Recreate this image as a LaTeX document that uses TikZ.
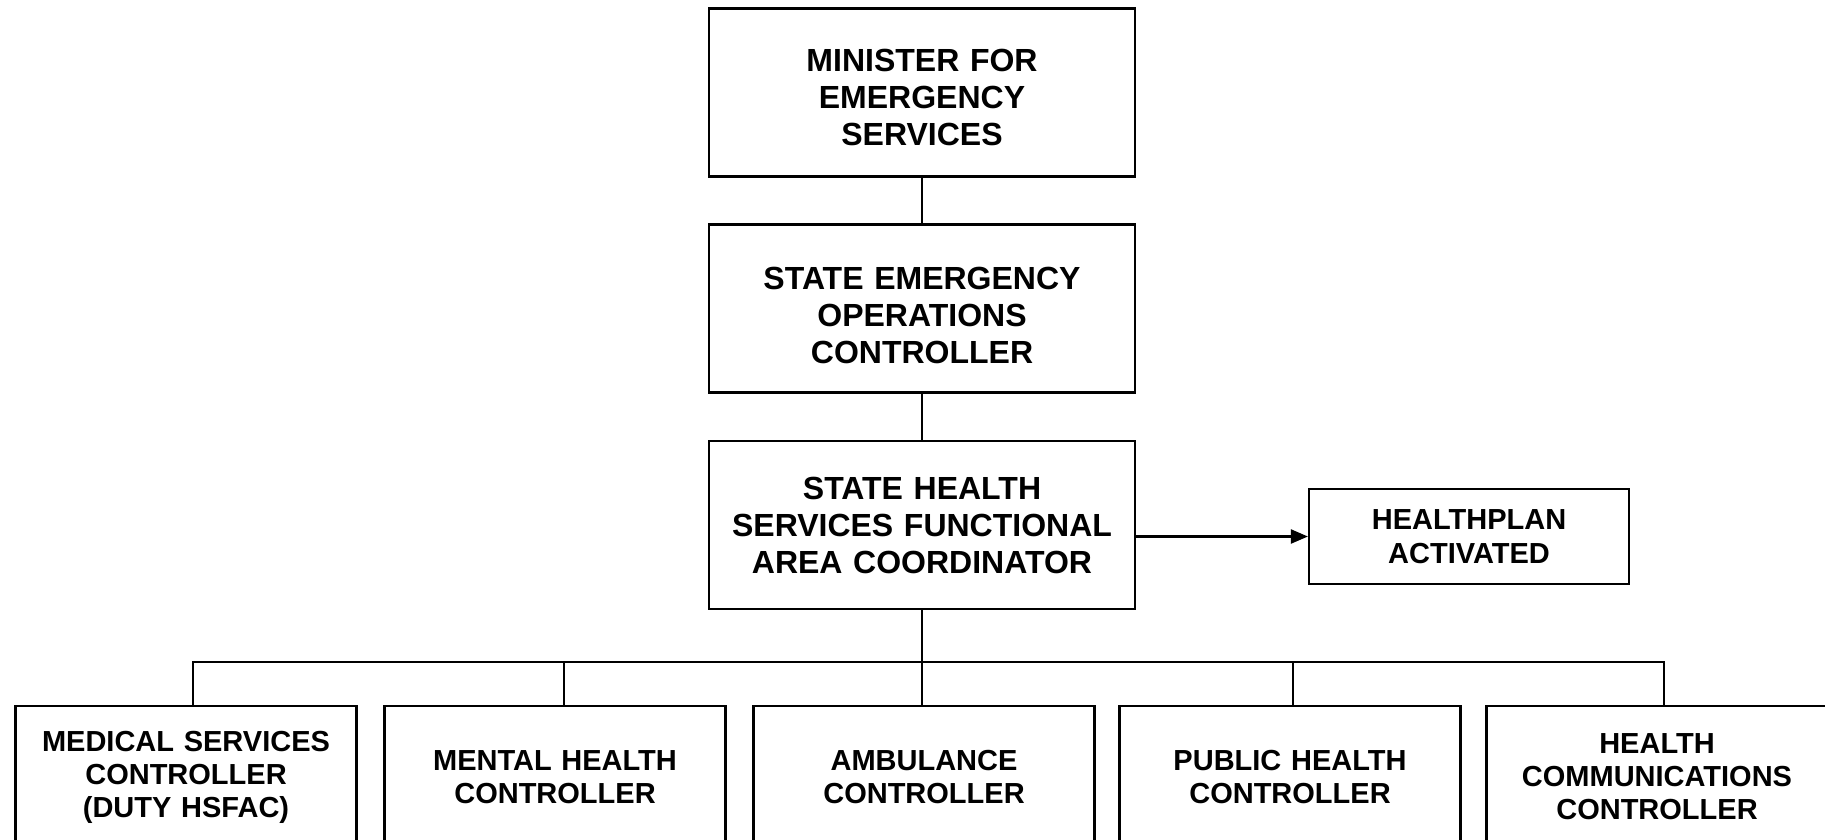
\documentclass[tikz,border=0pt]{standalone}
\usepackage{fontspec}
\setmainfont{Liberation Sans}
\usetikzlibrary{arrows.meta}

\tikzset{
  chief/.style={draw,rectangle,minimum width=426pt,minimum height=168pt,
                text width=400pt, text centered,
                font=\fontsize{32pt}{37pt}\selectfont\bfseries},
  ctrl/.style={draw,rectangle,minimum width=341pt,minimum height=142pt,
               text width=320pt, text centered,
               font=\fontsize{29pt}{33pt}\selectfont\bfseries}}

\begin{document}
\begin{tikzpicture}
[x=1pt,y=-1pt,line width=2.2pt,>={Triangle[length=17pt,width=14pt]},
 plan/.style={draw,rectangle,minimum width=320pt,minimum height=95pt,
              text width=300pt,text centered,
              font=\fontsize{29pt}{34pt}\selectfont\bfseries}]
\useasboundingbox (0,0) rectangle (1825,839);
\clip (0,0) rectangle (1825,839);

\node (minister) at (922,92.5) [chief] {\rule{0pt}{33pt}MINISTER FOR\\EMERGENCY\\SERVICES};
\node (seoc) at (922,308.5) [chief] {\rule{0pt}{37pt}STATE EMERGENCY\\OPERATIONS\\CONTROLLER};
\node (shfac) at (922,525) [chief] {STATE HEALTH\\SERVICES FUNCTIONAL\\AREA COORDINATOR};
\node (plan) at (1469,536.5) [plan] {HEALTHPLAN\\ACTIVATED};
\draw (minister) to (seoc);
\draw (seoc) to (shfac);
\draw [->] (shfac.east |- plan.west) to (plan.west);

% controllers under the coordinator
\node (med) at (186,777) [ctrl] {MEDICAL SERVICES\\CONTROLLER\\(DUTY HSFAC)};
\node (mental) at (555,777) [ctrl] {MENTAL HEALTH\\CONTROLLER};
\node (amb) at (924,777) [ctrl] {AMBULANCE\\CONTROLLER};
\node (pub) at (1290,777) [ctrl] {PUBLIC HEALTH\\CONTROLLER};
\node (comms) at (1657,777) [ctrl] {HEALTH\\COMMUNICATIONS\\CONTROLLER};
\coordinate (bus) at (922,662);
\draw (shfac.south) -- (shfac.south |- amb.north);
\draw ([xshift=7pt]med.north) -- ([xshift=7pt]med.north |- bus)
  -- ([xshift=7pt]comms.north |- bus) -- ([xshift=7pt]comms.north);
\draw ([xshift=9pt]mental.north) -- ([xshift=9pt]mental.north |- bus);
\draw ([xshift=3pt]pub.north) -- ([xshift=3pt]pub.north |- bus);
\end{tikzpicture}
\end{document}
